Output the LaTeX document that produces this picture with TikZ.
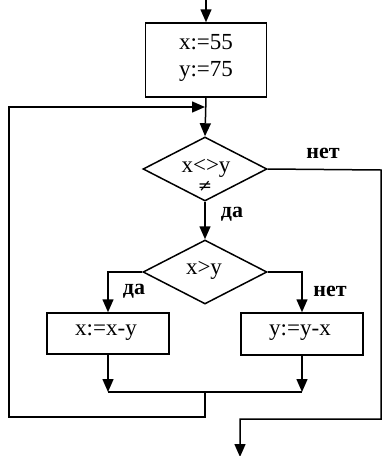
\documentclass[tikz,border=0pt]{standalone}
\usepackage{fontspec}
\setmainfont{Liberation Serif}
\newfontfamily\symfnt{DejaVu Serif}
\usetikzlibrary{shapes.geometric,arrows.meta}
\begin{document}
\begin{tikzpicture}[x=1pt,y=-1pt,
  line width=1.5pt,
  flow/.style={-{Triangle[width=11pt,length=13pt]}},
  procbox/.style={draw,rectangle,inner sep=0pt},
  decision/.style={draw,diamond,inner sep=0pt,minimum width=124pt,minimum height=64pt},
  txt/.style={font=\fontsize{23}{27}\selectfont,inner sep=0pt,align=center},
  lbl/.style={font=\bfseries\fontsize{22}{24}\selectfont,inner sep=0pt}]
\useasboundingbox (0,0) rectangle (383,456);
% nodes
\coordinate (top) at (206,0);
\node[procbox,minimum width=121pt,minimum height=74pt] (init) at (206,60) {};
\node[txt] (initt) at (206,58) {x:=55\\y:=75};
\node[decision] (d1) at (205,169) {};
\node[txt] (d1t) at (206,168) {x<>y};
\node[inner sep=0pt,font=\symfnt\fontsize{17}{17}\selectfont] (neq) at (205,186) {≠};
\node[decision] (d2) at (205,272) {};
\node[txt] (d2t) at (204,270) {x>y};
\node[procbox,minimum width=122pt,minimum height=41pt] (bl) at (108,333.5) {};
\node[txt] (blt) at (106,333) {x:=x-y};
\node[procbox,minimum width=122pt,minimum height=42pt] (br) at (302,334) {};
\node[txt] (brt) at (300,333) {y:=y-x};
\node[lbl] (no1) at (323,153) {нет};
\node[lbl] (yes1) at (232,214) {да};
\node[lbl] (yes2) at (134,291) {да};
\node[lbl] (no2) at (330,291) {нет};
\coordinate (mergeL) at (108,392);
\coordinate (mergeR) at (302,392);
\coordinate (mergeM) at (205,392);
\coordinate (loopA) at (205,417);
\coordinate (loopB) at (9,417);
\coordinate (loopC) at (9,107);
\coordinate (loopD) at (205,107);
\coordinate (exA) at (381,170);
\coordinate (exB) at (381,419);
\coordinate (exC) at (240,419);
\coordinate (exD) at (240,457);
% connectors
\draw[flow] (top) -- (init.north);
\draw[flow] (init.south) -- (d1.north);
\draw[flow] (d1.south) -- (d2.north);
\draw[flow] (d2.west) -| (bl.north);
\draw[flow] (d2.east) -| (br.north);
\draw[flow] (bl.south) -- (mergeL);
\draw[flow] (br.south) -- (mergeR);
\draw (mergeL) -- (mergeR);
\draw[flow] (mergeM) -- (loopA) -- (loopB) -- (loopC) -- (loopD);
\draw[flow] (d1.east) -- (exA) -- (exB) -- (exC) -- (exD);
\end{tikzpicture}
\end{document}
